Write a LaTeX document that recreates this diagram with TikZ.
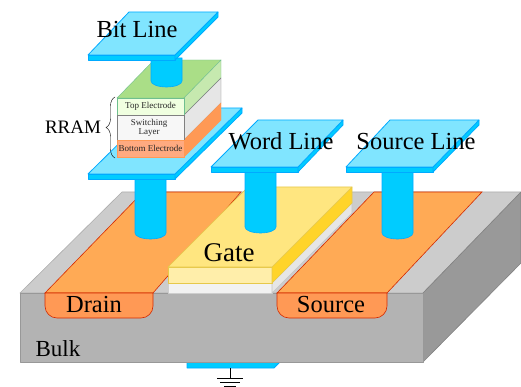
\documentclass[tikz,border=0pt]{standalone}
\usepackage{fontspec}
\setmainfont{Liberation Serif}
\usetikzlibrary{decorations.pathreplacing}
\definecolor{platetop}{HTML}{80E5FF}
\definecolor{plateedge}{HTML}{00AAFF}
\definecolor{platefill}{HTML}{00CCFF}
\definecolor{bulktop}{HTML}{CCCCCC}
\definecolor{bulkfront}{HTML}{B3B3B3}
\definecolor{bulkside}{HTML}{999999}
\definecolor{oxidefront}{HTML}{F2F2F2}
\definecolor{oxideside}{HTML}{E6E6E6}
\definecolor{welltop}{HTML}{FFAA55}
\definecolor{wellfront}{HTML}{FF9955}
\definecolor{welledge}{HTML}{D42A00}
\definecolor{gatetop}{HTML}{FFE680}
\definecolor{gatefront}{HTML}{FFEEAA}
\definecolor{gateside}{HTML}{FFD42A}
\definecolor{gateedge}{HTML}{E6C84A}
\definecolor{toptop}{HTML}{AADE87}
\definecolor{topside}{HTML}{C6E9AF}
\definecolor{topfront}{HTML}{F0FFE0}
\definecolor{topedge}{HTML}{6FBF8F}
\definecolor{bottomfront}{HTML}{FFAA80}
\tikzset{
  plate/.style={draw=plateedge,fill=platetop,line width=.8pt,line join=round},
  plate side/.style={draw=plateedge,fill=platefill,line width=.8pt,line join=round},
  pillar/.style={draw=plateedge,fill=platefill,line width=.6pt},
  bulk/.style={draw=#1!85!black,fill=#1,line width=.6pt,line join=round},
  well/.style={draw=welledge,fill=#1,line width=.6pt},
  gate/.style={draw=gateedge,fill=#1,line width=.6pt,line join=round},
  big label/.style={font=\fontsize{24.5}{24.5}\selectfont,inner sep=0pt},
  small label/.style={font=\fontsize{9}{9}\selectfont,inner sep=0pt,align=center,text=black!85}
}
\begin{document}
\begin{tikzpicture}[x=1pt,y=-1pt]
		\useasboundingbox (0,0) rectangle (521,387);
		
		% plate under the bulk, and the ground
		\draw[plate side] (187,362) -- (187,368) -- (274,368) -- (280,362) -- cycle;
		\coordinate (gnd) at (230,368);
		\coordinate (gnd top) at (230,378);
		\draw[line width=.8pt] (gnd) -- (gnd top);
		\draw[line width=1pt] (217,378) -- (243,378) (220,382) -- (240,382) (224,386) -- (236,386);
		
		% bulk
		\draw[bulk=bulktop] (20,293) -- (122,192) -- (521,192) -- (423,293) -- cycle;
		\draw[bulk=bulkside] (423,293) -- (521,192) -- (521,263) -- (423,362) -- cycle;
		\draw[bulk=bulkfront] (20,293) rectangle (423,362);
		
		% wells
		\draw[well=welltop] (45,293) -- (143,192) -- (241,192) -- (153,293) -- cycle;
		\draw[well=welltop] (277,293) -- (374,192) -- (482,192) -- (387,293) -- cycle;
		\draw[well=wellfront] (45,293) -- (45,306) [rounded corners=12pt] -- (45,318) -- (153,318) [sharp corners] -- (153,293) -- cycle;
		\draw[well=wellfront] (277,293) -- (277,306) [rounded corners=12pt] -- (277,318) -- (387,318) [sharp corners] -- (387,293) -- cycle;
		
		% gate stack
		\draw[bulk=oxidefront] (168,283) rectangle (272,293);
		\draw[bulk=oxideside] (272,283) -- (352,203) -- (352,213) -- (272,293) -- cycle;
		\draw[gate=gatefront] (168,267) rectangle (272,283);
		\draw[gate=gateside] (272,267) -- (352,187) -- (352,203) -- (272,283) -- cycle;
		\draw[gate=gatetop] (168,267) -- (248,187) -- (352,187) -- (272,267) -- cycle;
		
		% pillars
		\foreach \x/\ytop/\ybot in {135/175/233, 245/168/227, 382/168/233} {
			\draw[pillar] (\x,\ytop) -- (\x,\ybot) arc[start angle=180,end angle=0,x radius=15.5,y radius=6] -- (\x+31,\ytop) -- cycle;
		}
		
		% plates
		\foreach \xa/\xb/\xc/\xd/\ya/\yb in {88/175/242/155/174/108, 211/298/343/258/167/120, 346/433/479/390/167/120} {
			\draw[plate side] (\xa,\ya) rectangle (\xb,\ya+5);
			\draw[plate side] (\xb,\ya) -- (\xc,\yb) -- (\xc,\yb+5) -- (\xb,\ya+5) -- cycle;
			\draw[plate] (\xa,\ya) -- (\xd,\yb) -- (\xc,\yb) -- (\xb,\ya) -- cycle;
		}
		
		% rram stack
		\draw[draw=topedge,fill=toptop] (117,98) -- (154,60) -- (221,60) -- (184,98) -- cycle;
		\draw[draw=topedge,fill=topside] (184,98) -- (221,60) -- (221,78) -- (184,115) -- cycle;
		\draw[draw=black!50,fill=oxideside] (184,115) -- (221,78) -- (221,103) -- (184,140) -- cycle;
		\draw[draw=wellfront,fill=wellfront] (184,140) -- (221,103) -- (221,120) -- (184,157) -- cycle;
		\draw[draw=topedge,fill=topfront] (117,98) rectangle (184,115);
		\draw[draw=black!50,fill=black!3] (117,115) rectangle (184,140);
		\draw[draw=wellfront,fill=bottomfront] (117,140) rectangle (184,157);
		
		% bit line goes last, over the stack
		\draw[pillar] (151,58) -- (151,81) arc[start angle=180,end angle=0,x radius=15.5,y radius=6] -- (182,58) -- cycle;
		\draw[plate side] (88,55) rectangle (175,60);
		\draw[plate side] (175,55) -- (218,12) -- (218,17) -- (175,60) -- cycle;
		\draw[plate] (88,55) -- (129,12) -- (218,12) -- (175,55) -- cycle;
		
		% labels
		\node[big label] (bit) at (137,30) {Bit Line};
		\node[big label] (word) at (281,141) {Word Line};
		\node[big label] (source line) at (416,142) {Source Line};
		\node[big label,font=\fontsize{27}{27}\selectfont] (gate) at (229,253) {Gate};
		\node[big label] (drain) at (94,305) {Drain};
		\node[big label] (source) at (331,305) {Source};
		\node[big label,font=\fontsize{23}{23}\selectfont] (bulk) at (58,349) {Bulk};
		\node[small label] (top) at (150.5,106) {Top Electrode};
		\node[small label,font=\fontsize{9}{8.5}\selectfont] (switching) at (149,128) {Switching\\Layer};
		\node[small label] (bottom) at (150.5,148) {Bottom Electrode};
		\node[big label,font=\fontsize{19}{19}\selectfont] (rram) at (73,127) {RRAM};
		\draw[decorate,decoration={brace,amplitude=9pt}] (115,158) -- (115,97);
\end{tikzpicture}
\end{document}
